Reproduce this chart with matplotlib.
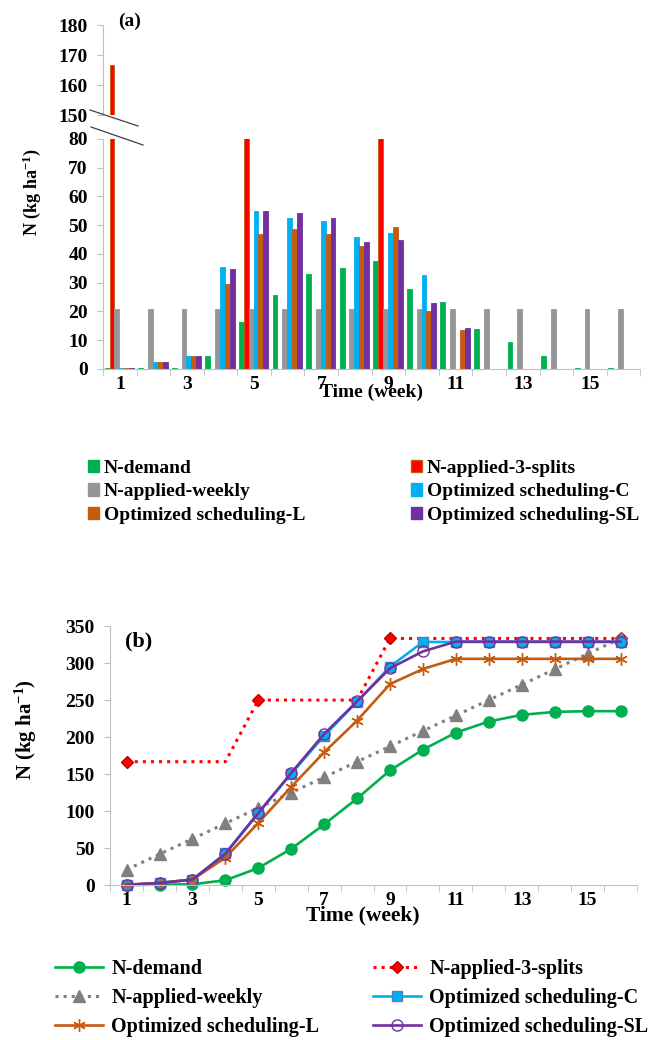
import numpy as np
import matplotlib
matplotlib.use("Agg")
import matplotlib.pyplot as plt
from matplotlib.lines import Line2D
from matplotlib.patches import Patch

plt.rcParams['font.family'] = ['Liberation Serif', 'DejaVu Serif']
plt.rcParams['font.weight'] = 'bold'
plt.rcParams['axes.labelweight'] = 'bold'
plt.rcParams['mathtext.fontset'] = 'custom'
plt.rcParams['mathtext.rm'] = 'Liberation Serif:bold'
plt.rcParams['mathtext.bf'] = 'Liberation Serif:bold'
plt.rcParams['mathtext.default'] = 'bf'

weeks = np.arange(1, 17)
tick_weeks = [1, 3, 5, 7, 9, 11, 13, 15]

# (a) weekly N amounts
demand = [0.3, 0.3, 0.3, 4.4, 16.4, 25.7, 33.0, 35.1, 37.6, 27.9, 23.3, 14.0, 9.4, 4.4, 0.5, 0.5]
splits3 = [166.7, 0, 0, 0, 83.3, 0, 0, 0, 83.3, 0, 0, 0, 0, 0, 0, 0]
weekly = [20.8, 20.8, 20.8, 20.8, 20.8, 20.8, 20.8, 20.8, 20.8, 20.8, 20.8, 20.8, 20.8, 20.8, 20.8, 20.8]
opt_c = [0.3, 2.5, 4.6, 35.4, 55.0, 52.6, 51.4, 46.0, 47.4, 32.8, 0, 0, 0, 0, 0, 0]
opt_l = [0.3, 2.5, 4.6, 29.7, 46.8, 48.8, 46.8, 42.8, 49.4, 20.3, 13.7, 0, 0, 0, 0, 0]
opt_sl = [0.3, 2.5, 4.6, 34.8, 55.0, 54.4, 52.6, 44.1, 44.7, 22.8, 14.4, 0, 0, 0, 0, 0]

# (b) cumulative N
cum_demand = [0, 0.5, 1, 6.5, 23, 49, 82, 117, 155, 183, 206, 221, 230, 234, 235, 235]
cum_splits = [166.7, 166.7, 166.7, 166.7, 250, 250, 250, 250, 333.3, 333.3, 333.3, 333.3, 333.3, 333.3, 333.3, 333.3]
cum_weekly = [20.8, 41.7, 62.5, 83.3, 104.2, 125, 145.8, 166.7, 187.5, 208.3, 229.2, 250, 270.8, 291.7, 312.5, 333.3]
cum_c = [0.3, 2.8, 7.4, 42.8, 97.8, 150.4, 201.8, 247.8, 295.2, 328.5, 328.5, 328.5, 328.5, 328.5, 328.5, 328.5]
cum_l = [0.3, 2.8, 7.4, 37.1, 83.9, 132.7, 179.5, 222.3, 271.7, 292, 305.7, 305.7, 305.7, 305.7, 305.7, 305.7]
cum_sl = [0.3, 2.8, 7.4, 42.2, 97.2, 151.6, 204.2, 248.3, 293, 315.8, 329, 329, 329, 329, 329, 329]

labels = ['N-demand', 'N-applied-3-splits', 'N-applied-weekly',
          'Optimized scheduling-C', 'Optimized scheduling-L', 'Optimized scheduling-SL']
colors = ['#00b050', '#ff0000', '#969696', '#00b0f0', '#c55a11', '#7030a0']
edges = ['#00b050', '#c55a11', '#969696', '#00b0f0', '#c55a11', '#7030a0']
bar_data = [demand, splits3, weekly, opt_c, opt_l, opt_sl]

axis_gray = '#bfbfbf'
W, H = 648, 1040

fig = plt.figure(figsize=(6.48, 10.4), dpi=100)
ax_up = fig.add_axes([0.159, 0.8894, 0.829, 0.0865])
ax_lo = fig.add_axes([0.159, 0.6452, 0.829, 0.2212])
ax_b = fig.add_axes([0.170, 0.149, 0.813, 0.249])


def style_axis(ax):
    for s in ['right', 'top']:
        ax.spines[s].set_visible(False)
    ax.spines['left'].set_color(axis_gray)
    ax.spines['bottom'].set_color(axis_gray)
    ax.tick_params(axis='y', length=4, color=axis_gray, labelsize=14, pad=7)
    ax.set_xlim(0.5, 16.5)


w = 0.145
for ax in (ax_up, ax_lo):
    for i, (vals, c, ec) in enumerate(zip(bar_data, colors, edges)):
        ax.bar(weeks + (i - 2.6) * w, vals, width=w, color=c, edgecolor=ec,
               linewidth=0.6, label=labels[i])
    style_axis(ax)

ax_up.set_ylim(150, 180)
ax_up.set_yticks([150, 160, 170, 180])
ax_up.spines['bottom'].set_visible(False)
ax_up.set_xticks([])
ax_lo.set_ylim(0, 80)
ax_lo.set_yticks(range(0, 81, 10))
ax_lo.set_xticks(tick_weeks)
ax_lo.set_xticks(np.arange(0.5, 17, 1), minor=True)
ax_lo.tick_params(axis='x', which='major', length=0, labelsize=14, pad=5)
ax_lo.tick_params(axis='x', which='minor', length=5, color=axis_gray)
ax_lo.set_xlabel('Time (week)', fontsize=14, labelpad=-7)
ax_lo.set_ylabel('N (kg ha$^{-1}$)', fontsize=13)
ax_lo.yaxis.set_label_coords(-0.112, 0.77)

# break marks
for (x0, y0, x1, y1) in [(90, 110, 138, 126), (91, 127, 143, 145)]:
    fig.add_artist(Line2D([x0 / W, x1 / W], [1 - y0 / H, 1 - y1 / H],
                          transform=fig.transFigure, color='#404040', lw=0.9))

fig.text(118 / W, 1 - 21 / H, '(a)', fontsize=14, va='center')

handles_a = [Patch(facecolor=c, edgecolor=ec) for c, ec in zip(colors, edges)]
leg_a = dict(loc='upper left', frameon=False, fontsize=14, handlelength=0.55,
             handleheight=0.6, handletextpad=0.25, labelspacing=0.32, borderpad=0,
             borderaxespad=0)
fig.legend([handles_a[k] for k in (0, 2, 4)], [labels[k] for k in (0, 2, 4)],
           bbox_to_anchor=(88 / W, 1 - 460 / H), **leg_a)
fig.legend([handles_a[k] for k in (1, 3, 5)], [labels[k] for k in (1, 3, 5)],
           bbox_to_anchor=(411 / W, 1 - 460 / H), **leg_a)

# (b)
style_axis(ax_b)
ax_b.set_ylim(0, 350)
ax_b.set_yticks(range(0, 351, 50))
ax_b.set_xticks(tick_weeks)
ax_b.set_xticks(np.arange(0.5, 17, 1), minor=True)
ax_b.tick_params(axis='x', which='major', length=0, labelsize=14, pad=5)
ax_b.tick_params(axis='x', which='minor', length=5, color=axis_gray)
ax_b.set_xlabel('Time (week)', fontsize=15.5)
ax_b.xaxis.set_label_coords(0.48, -0.078)
ax_b.set_ylabel('N (kg ha$^{-1}$)', fontsize=15)
ax_b.yaxis.set_label_coords(-0.135, 0.6)

lw = 1.9
ax_b.plot(weeks, cum_demand, color='#00b050', lw=lw, marker='o', ms=8,
          label=labels[0], clip_on=False)
ax_b.plot(weeks, cum_splits, color='#ff0000', lw=2.2, ls=':', marker='D', ms=6.5,
          mfc='#ff0000', mec='#c00000', markevery=[0, 4, 8, 15],
          label=labels[1], clip_on=False)
ax_b.plot(weeks, cum_weekly, color='#808080', lw=2.2, ls=':', marker='^', ms=8,
          label=labels[2], clip_on=False)
ax_b.plot(weeks, cum_c, color='#00b0f0', lw=lw, marker='s', ms=7, mec='#4f81bd',
          label=labels[3], clip_on=False)
ax_b.plot(weeks, cum_l, color='#c55a11', lw=lw, marker=(6, 2, 0), ms=9, mew=1,
          label=labels[4], clip_on=False)
ax_b.plot(weeks, cum_sl, color='#7030a0', lw=lw, marker='o', ms=8, mfc='none',
          mec='#7030a0', mew=1, label=labels[5], clip_on=False)

fig.text(125 / W, 1 - 641 / H, '(b)', fontsize=16, va='center')

h_b, l_b = ax_b.get_legend_handles_labels()
leg_b = dict(loc='upper left', frameon=False, fontsize=14.5, handlelength=2.4,
             handletextpad=0.4, labelspacing=0.45, borderpad=0, borderaxespad=0)
fig.legend([h_b[k] for k in (0, 2, 4)], [l_b[k] for k in (0, 2, 4)],
           bbox_to_anchor=(55 / W, 1 - 959 / H), **leg_b)
fig.legend([h_b[k] for k in (1, 3, 5)], [l_b[k] for k in (1, 3, 5)],
           bbox_to_anchor=(373 / W, 1 - 959 / H), **leg_b)

fig.savefig('out.png', dpi=100)
